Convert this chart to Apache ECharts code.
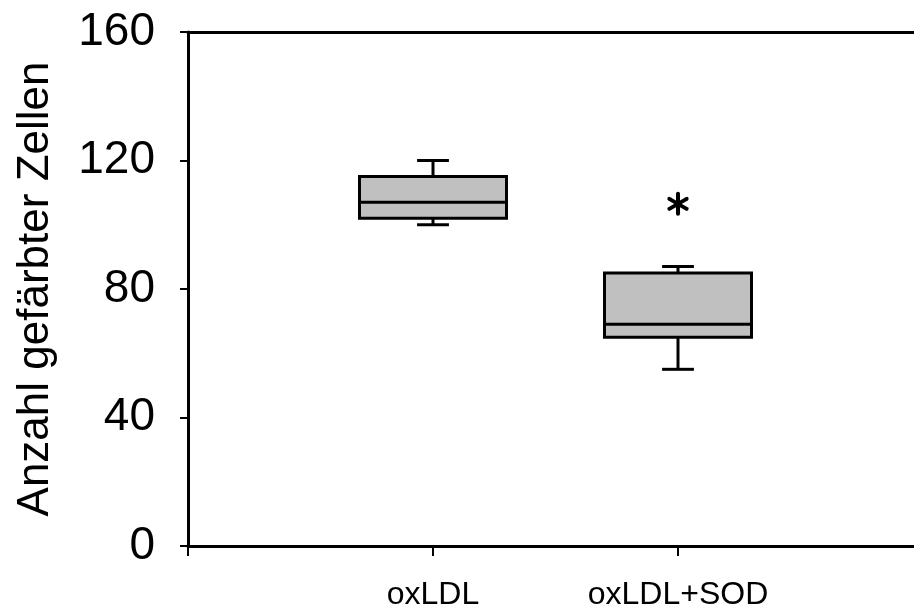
<!DOCTYPE html>
<html>
<head>
<meta charset="utf-8">
<script src="https://cdn.jsdelivr.net/npm/echarts@6/dist/echarts.min.js"></script>
<style>
html,body{margin:0;padding:0;background:#fff;}
#chart{width:914px;height:608px;}
</style>
</head>
<body>
<div id="chart"></div>
<script>
// Data
var categories = ['oxLDL', 'oxLDL+SOD'];
var categoryPositions = [1, 2];
// [min, Q1, median, Q3, max]
var boxMin = [100, 55];
var boxQ1 = [102, 65];
var boxMedian = [107, 69];
var boxQ3 = [115, 85];
var boxMax = [120, 87];
// significance marker (asterisk)
var starPosition = [2];
var starValue = [106.5];
var yTicks = [0, 40, 80, 120, 160];
var xTicks = [0, 1, 2];

var boxData = categoryPositions.map(function (p, i) {
  return [p, boxMin[i], boxQ1[i], boxMedian[i], boxQ3[i], boxMax[i]];
});
var starData = starPosition.map(function (p, i) { return [p, starValue[i]]; });

var chart = echarts.init(document.getElementById('chart'), null, {renderer: 'canvas'});
var FONT = 'Liberation Sans, Arial, sans-serif';
var X_MAX = 726 / 245;

function renderBox(params, api) {
  var x = api.value(0);
  var pMin = api.coord([x, api.value(1)]);
  var pQ1 = api.coord([x, api.value(2)]);
  var pMed = api.coord([x, api.value(3)]);
  var pQ3 = api.coord([x, api.value(4)]);
  var pMax = api.coord([x, api.value(5)]);
  var unit = api.size([1, 0])[0];
  var bw = unit * 0.6;
  var cw = unit * 0.13;
  var cx = pMed[0];
  var ls = {stroke: '#000', lineWidth: 3};
  return {
    type: 'group',
    children: [
      {type: 'line', shape: {x1: cx, y1: pMin[1], x2: cx, y2: pQ1[1]}, style: ls},
      {type: 'line', shape: {x1: cx, y1: pQ3[1], x2: cx, y2: pMax[1]}, style: ls},
      {type: 'line', shape: {x1: cx - cw / 2, y1: pMin[1], x2: cx + cw / 2, y2: pMin[1]}, style: ls},
      {type: 'line', shape: {x1: cx - cw / 2, y1: pMax[1], x2: cx + cw / 2, y2: pMax[1]}, style: ls},
      {type: 'rect', shape: {x: cx - bw / 2, y: pQ3[1], width: bw, height: pQ1[1] - pQ3[1]},
        style: {fill: '#c0c0c0', stroke: '#000', lineWidth: 3}},
      {type: 'line', shape: {x1: cx - bw / 2, y1: pMed[1], x2: cx + bw / 2, y2: pMed[1]}, style: ls}
    ]
  };
}

function renderStar(params, api) {
  var p = api.coord([api.value(0), api.value(1)]);
  var r = 10;
  var children = [];
  [90, 30, 150].forEach(function (deg) {
    var a = deg * Math.PI / 180;
    var dx = Math.cos(a) * r, dy = Math.sin(a) * r;
    children.push({
      type: 'line',
      shape: {x1: p[0] - dx, y1: p[1] - dy, x2: p[0] + dx, y2: p[1] + dy},
      style: {stroke: '#000', lineWidth: 4, lineCap: 'round'}
    });
  });
  return {type: 'group', children: children};
}

var option = {
  animation: false,
  backgroundColor: '#fff',
  grid: {left: 188, top: 32, bottom: 62, right: 0, containLabel: false, outerBoundsMode: 'none'},
  xAxis: [{
    type: 'value', min: 0, max: X_MAX, interval: 1,
    axisLine: {show: true, onZero: false, lineStyle: {color: '#000', width: 3}},
    axisTick: {show: true, length: 10, customValues: xTicks, lineStyle: {color: '#000', width: 2}},
    axisLabel: {
      margin: 33, color: '#000', fontFamily: FONT, fontSize: 32,
      customValues: categoryPositions,
      formatter: function (v) {
        var i = categoryPositions.indexOf(v);
        return i >= 0 ? categories[i] : '';
      }
    },
    splitLine: {show: false}
  }, {
    type: 'value', min: 0, max: X_MAX, position: 'top',
    axisLine: {show: true, onZero: false, lineStyle: {color: '#000', width: 3}},
    axisTick: {show: false}, axisLabel: {show: false}, splitLine: {show: false}
  }],
  yAxis: {
    type: 'value', min: yTicks[0], max: yTicks[yTicks.length - 1], interval: 40,
    name: 'Anzahl gefärbter Zellen', nameLocation: 'middle', nameGap: 130,
    nameTextStyle: {color: '#000', fontFamily: FONT, fontSize: 44},
    axisLine: {show: true, lineStyle: {color: '#000', width: 3}},
    axisTick: {show: true, length: 8, lineStyle: {color: '#000', width: 2}},
    axisLabel: {margin: 33, color: '#000', fontFamily: FONT, fontSize: 46},
    splitLine: {show: false}
  },
  series: [{
    type: 'custom',
    renderItem: renderBox,
    encode: {x: 0, y: [1, 2, 3, 4, 5]},
    data: boxData,
    clip: false
  }, {
    type: 'custom',
    renderItem: renderStar,
    encode: {x: 0, y: 1},
    data: starData,
    clip: false
  }]
};
chart.setOption(option);
</script>
</body>
</html>
